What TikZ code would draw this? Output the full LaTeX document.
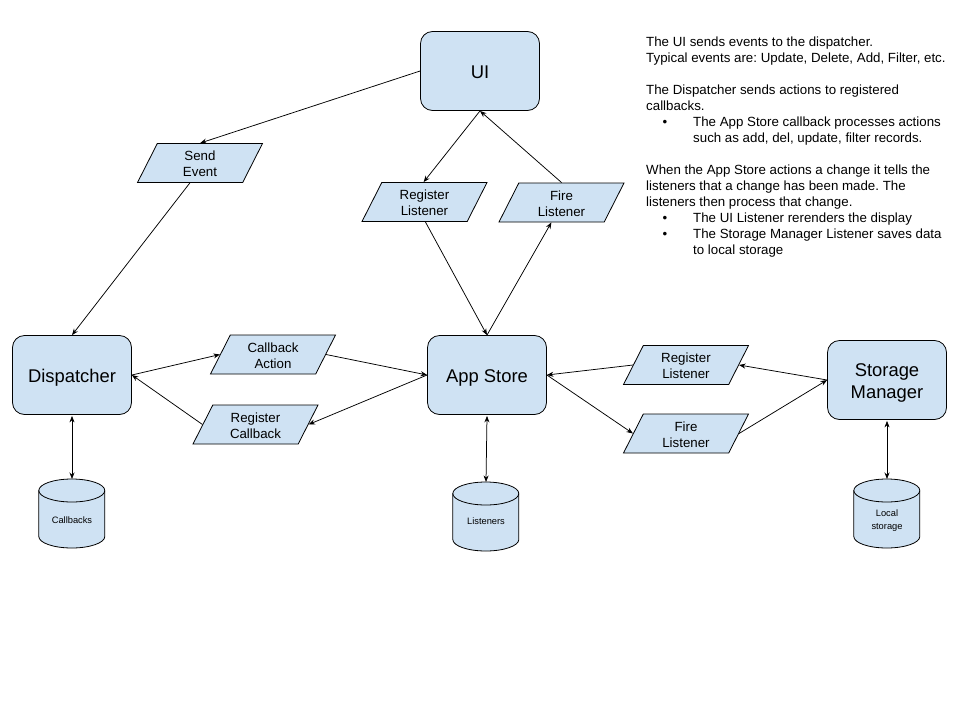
\documentclass[tikz,border=0pt]{standalone}
\usepackage{fontspec}
\setmainfont{Liberation Sans}
\usetikzlibrary{shapes.geometric,arrows.meta,backgrounds}
\definecolor{boxfill}{HTML}{CFE2F3}
\definecolor{ink}{HTML}{000000}
\frenchspacing
\tikzset{
  rbox/.style={draw=ink, fill=boxfill, line width=0.8pt, rounded corners=12pt,
    minimum width=119pt, minimum height=79pt, inner sep=0pt, align=center,
    text height=17pt, text depth=2pt,
    font=\fontsize{18.4}{21.5}\selectfont},
  para/.style={trapezium, trapezium left angle=58.4, trapezium right angle=121.6,
    trapezium stretches body=true, draw=ink, fill=boxfill, line width=0.8pt,
    minimum width=125pt, minimum height=39pt, inner sep=0pt, align=center,
    text height=29.6pt, text depth=2.6pt,
    font=\fontsize{13.3}{16}\selectfont},
  cylnode/.style={anchor=north, minimum width=66pt, inner sep=0pt, align=center,
    font=\fontsize{9.3}{12.3}\selectfont},
  cyl/.style={draw=ink, fill=boxfill, line width=0.8pt},
  arr/.style={-{Stealth[length=6.5pt,width=5pt]}, line width=0.75pt, draw=ink},
  darr/.style={{Stealth[length=6.5pt,width=5pt]}-{Stealth[length=6.5pt,width=5pt]}, line width=0.75pt, draw=ink},
  note/.style={anchor=base west, inner sep=0pt, font=\fontsize{13.3}{16}\selectfont},
  bul/.style={anchor=base, inner sep=0pt, font=\fontsize{13.3}{16}\selectfont},
}
\begin{document}
\begin{tikzpicture}[x=1pt,y=-1pt]
\useasboundingbox (0,0) rectangle (960,720);

% main boxes
\node[rbox] (ui) at (480,71) {UI};
\node[rbox] (disp) at (72,375) {Dispatcher};
\node[rbox] (as) at (487,375) {App Store};
\node[rbox, text height=40.6pt, text depth=4pt] (sm) at (887,380) {Storage\\Manager};

% parallelograms
\node[para] (se) at (200,163) {Send\\Event};
\node[para] (rl1) at (424.5,202) {Register\\Listener};
\node[para] (fl1) at (561.5,202.5) {Fire\\Listener};
\node[para] (ca) at (273,354.5) {Callback\\Action};
\node[para] (rc) at (255.5,424.5) {Register\\Callback};
\node[para] (rl2) at (686,365) {Register\\Listener};
\node[para] (fl2) at (686,433.5) {Fire\\Listener};

% cylinders
\node[cylnode, text height=44.5pt, text depth=24.5pt] (cb) at (72,479) {Callbacks};
\node[cylnode, text height=42.3pt, text depth=25.7pt] (ls) at (486,482) {Listeners};
\node[cylnode, text height=50pt, text depth=19pt] (lst) at (887,479) {Local\\storage};
\begin{scope}[on background layer]
\fill[white] (0,0) rectangle (960,720);
\foreach \c in {cb,ls,lst}{
  \draw[cyl] (\c.north west) ++(0,11.5) -- ++(0,46)
     arc[start angle=180,end angle=0,x radius=33,y radius=11.5]
     -- ++(0,-46)
     arc[start angle=0,end angle=-180,x radius=33,y radius=11.5] -- cycle;
  \draw[cyl, fill=none] (\c.north west) ++(0,11.5)
     arc[start angle=180,end angle=0,x radius=33,y radius=11.5];
}
\end{scope}

% connectors
\draw[arr] (ui.west) -- ([xshift=-10pt]se.top side);
\draw[arr] (se.bottom side) -- (disp.north);
\draw[arr] (ui.south) -- ([xshift=-11pt]rl1.top side);
\draw[arr] ([xshift=-10pt]fl1.top side) -- (ui.south);
\draw[arr] ([xshift=11pt]rl1.bottom side) -- (as.north);
\draw[arr] (as.north) -- (fl1.bottom side);
\draw[arr] (disp.east) -- (ca.left side);
\draw[arr] (ca.right side) -- (as.west);
\draw[arr] (as.west) -- (rc.right side);
\draw[arr] (rc.left side) -- (disp.east);
\draw[arr] (sm.west) -- (rl2.right side);
\draw[arr] (rl2.left side) -- (as.east);
\draw[arr] (as.east) -- (fl2.left side);
\draw[arr] (fl2.right side) -- (sm.west);
\draw[darr] ([yshift=-1pt]disp.south) -- (cb.north);
\draw[darr] ([yshift=-1pt]as.south) -- (ls.north);
\draw[darr] ([yshift=-1pt]sm.south) -- (lst.north);

% notes
\node[note] (t1) at (646,46) {The UI sends events to the dispatcher.};
\node[note] (t2) at (646,62) {Typical events are: Update, Delete, Add, Filter, etc.};
\node[note] (t3) at (646,94) {The Dispatcher sends actions to registered};
\node[note] (t4) at (646,110) {callbacks.};
\node[bul] (b1) at (665,126) {•};
\node[note] (t5) at (693,126) {The App Store callback processes actions};
\node[note] (t6) at (693,142) {such as add, del, update, filter records.};
\node[note] (t7) at (646,174) {When the App Store actions a change it tells the};
\node[note] (t8) at (646,190) {listeners that a change has been made. The};
\node[note] (t9) at (646,206) {listeners then process that change.};
\node[bul] (b2) at (665,222) {•};
\node[note] (t10) at (693,222) {The UI Listener rerenders the display};
\node[bul] (b3) at (665,238) {•};
\node[note] (t11) at (693,238) {The Storage Manager Listener saves data};
\node[note] (t12) at (693,254) {to local storage};
\end{tikzpicture}
\end{document}
